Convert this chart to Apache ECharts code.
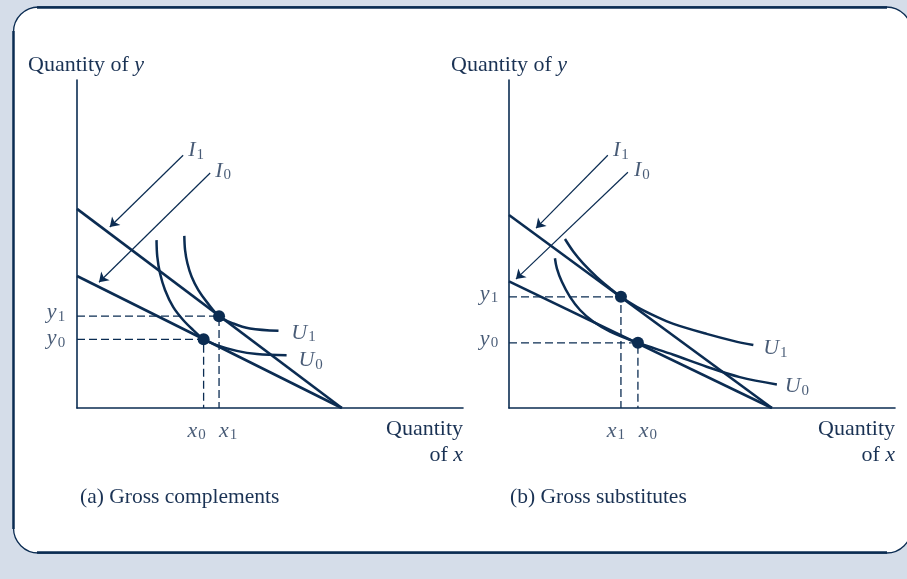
<!DOCTYPE html>
<html><head><meta charset="utf-8">
<script src="https://cdn.jsdelivr.net/npm/echarts@6/dist/echarts.min.js"></script>
<style>html,body{margin:0;padding:0;background:#d5dde9;}#c{width:907px;height:579px;}</style>
</head><body><div id="c"></div>
<script>
// ---------- data (abstract quantity units) ----------
const axisMaxX = 100, axisMaxY = 85;
// Panel (a) Gross complements
const aBudgetI1 = [[0, 51.6], [68.6, 0]];
const aBudgetI0 = [[0, 34.2], [68.6, 0]];
const aE1 = [36.8, 23.8];
const aE0 = [32.8, 17.8];
const aU1 = [[27.8,44.6],[28.0,40.9],[28.6,37.5],[29.7,34.0],[31.4,30.6],[33.6,27.5],[36.8,23.8],[40.5,21.9],[44.8,20.6],[52.2,20.0]];
const aU0 = [[20.6,43.5],[20.8,39.2],[21.5,34.9],[22.8,30.6],[24.9,26.2],[27.5,22.8],[30.1,20.2],[32.8,17.8],[36.2,16.3],[41.4,14.8],[46.6,14.0],[54.3,13.7]];
const aArrowI1 = [[27.5,65.5],[8.5,46.9]];
const aArrowI0 = [[34.5,60.9],[5.7,32.6]];
// Panel (b) Gross substitutes
const bBudgetI1 = [[0, 50.0], [68.1, 0]];
const bBudgetI0 = [[0, 32.8], [68.1, 0]];
const bE1 = [29.0, 28.8];
const bE0 = [33.4, 16.9];
const bU1 = [[14.5,43.8],[16.7,40.5],[19.2,37.5],[22.7,34.0],[26.2,31.0],[29.0,28.8],[33.1,26.2],[38.3,23.6],[42.6,21.8],[51.2,19.2],[58.1,17.4],[63.3,16.3]];
const bU0 = [[11.9,38.8],[12.4,36.2],[13.7,32.7],[15.8,28.8],[18.4,25.4],[21.8,22.4],[26.2,19.8],[33.4,16.9],[42.6,13.8],[51.2,10.7],[59.8,8.0],[69.4,6.1]];
const bArrowI1 = [[25.6,65.5],[7.0,46.6]];
const bArrowI0 = [[30.8,61.1],[1.8,33.4]];
// text
const yAxisTitle = ['Quantity of ', 'y'];
const xAxisTitle = ['Quantity', 'of ', 'x'];
const captions = ['(a) Gross complements', '(b) Gross substitutes'];
const budgetNames = ['I1', 'I0'];
const utilityNames = ['U1', 'U0'];

// ---------- styling ----------
const NAVY = '#0b2c52';
const TXT = '#1a3254';
const SERIF = '"Liberation Serif","DejaVu Serif",serif';
const rich = {
  m: {fontFamily: SERIF, fontStyle: 'italic', fontSize: 22, color: TXT},
  s: {fontFamily: SERIF, fontSize: 15, color: TXT, padding: [9, 0, 0, 1]}
};
function sub(name) { return '{m|' + name[0] + '}{s|' + name.slice(1) + '}'; }

const panels = [
  {bI1: aBudgetI1, bI0: aBudgetI0, E1: aE1, E0: aE0, U1: aU1, U0: aU0, arI1: aArrowI1, arI0: aArrowI0,
   off: {x0: [-7, 23], x1: [9, 23], y1: [-21, -4], y0: [-21, -1], I1: [13, -5], I0: [13, -2], U1: [25, 2], U0: [24, 5]}},
  {bI1: bBudgetI1, bI0: bBudgetI0, E1: bE1, E0: bE0, U1: bU1, U0: bU0, arI1: bArrowI1, arI0: bArrowI0,
   off: {x0: [10, 23], x1: [-5, 23], y1: [-20, -3], y0: [-20, -4], I1: [13, -5], I0: [14, -2], U1: [22, 3], U0: [20, 2]}}
];

const grids = [
  {left: 77, top: 80, width: 386, height: 328},
  {left: 509, top: 80, width: 386, height: 328}
];
const axisCommon = {
  type: 'value', min: 0,
  axisLine: {show: true, onZero: false, lineStyle: {color: NAVY, width: 1.6}},
  axisTick: {show: false}, axisLabel: {show: false}, splitLine: {show: false}
};
const xAxes = grids.map((g, i) => Object.assign({}, axisCommon, {gridIndex: i, max: axisMaxX}));
const yAxes = grids.map((g, i) => Object.assign({}, axisCommon, {gridIndex: i, max: axisMaxY}));

const series = [];
panels.forEach((p, i) => {
  const ax = {xAxisIndex: i, yAxisIndex: i};
  [p.E1, p.E0].forEach(E => {
    series.push(Object.assign({type: 'line', data: [[0, E[1]], [E[0], E[1]], [E[0], 0]], showSymbol: false, silent: true, z: 1,
      lineStyle: {color: NAVY, width: 1.3, type: [8, 4]}}, ax));
  });
  [p.bI1, p.bI0].forEach(b => {
    series.push(Object.assign({type: 'line', data: b, showSymbol: false, z: 3, lineStyle: {color: NAVY, width: 2.6}}, ax));
  });
  [p.U1, p.U0].forEach(u => {
    series.push(Object.assign({type: 'line', data: u, smooth: 0.35, showSymbol: false, z: 3, lineStyle: {color: NAVY, width: 2.5}}, ax));
  });
  series.push(Object.assign({type: 'lines', coordinateSystem: 'cartesian2d', z: 4,
    symbol: ['none', 'arrow'], symbolSize: [0, 9],
    lineStyle: {color: NAVY, width: 1.2, opacity: 1},
    data: [{coords: p.arI1}, {coords: p.arI0}]}, ax));
  series.push(Object.assign({type: 'scatter', symbolSize: 12, z: 5, itemStyle: {color: NAVY, opacity: 1},
    data: [p.E1, p.E0]}, ax));
  const lab = (pt, name, key) => ({value: pt, name: name,
    label: {show: true, position: 'inside', offset: p.off[key], formatter: sub(name), rich: rich}});
  const U1end = p.U1[p.U1.length - 1], U0end = p.U0[p.U0.length - 1];
  series.push(Object.assign({type: 'scatter', symbolSize: 0.1, z: 6, silent: true, itemStyle: {color: 'transparent'},
    data: [
      lab([p.E0[0], 0], 'x0', 'x0'), lab([p.E1[0], 0], 'x1', 'x1'),
      lab([0, p.E1[1]], 'y1', 'y1'), lab([0, p.E0[1]], 'y0', 'y0'),
      lab(p.arI1[0], budgetNames[0], 'I1'), lab(p.arI0[0], budgetNames[1], 'I0'),
      lab(U1end, utilityNames[0], 'U1'), lab(U0end, utilityNames[1], 'U0')
    ]}, ax));
});

const txt = (x, y, text, extra) => ({type: 'text', x: x, y: y, z: 10,
  style: Object.assign({text: text, fill: TXT, font: '22px ' + SERIF, verticalAlign: 'middle'}, extra || {})});
const titleRich = {n: {fontFamily: SERIF, fontSize: 22, color: TXT}, i: {fontFamily: SERIF, fontStyle: 'italic', fontSize: 22, color: TXT}};
const graphic = [
  {type: 'rect', z: -10, shape: {x: 13.5, y: 7, width: 898, height: 546, r: 25},
   style: {fill: '#ffffff', stroke: NAVY, lineWidth: 1.3}},
  {type: 'line', z: -9, shape: {x1: 37, y1: 7.5, x2: 887, y2: 7.5}, style: {stroke: NAVY, lineWidth: 2.6}},
  {type: 'line', z: -9, shape: {x1: 37, y1: 552.5, x2: 887, y2: 552.5}, style: {stroke: NAVY, lineWidth: 2.6}},
  {type: 'line', z: -9, shape: {x1: 13.5, y1: 31, x2: 13.5, y2: 529}, style: {stroke: NAVY, lineWidth: 2.4}}
];
const titleX = [28, 451], xTitleRight = [463, 895], capX = [80, 510];
for (let i = 0; i < 2; i++) {
  graphic.push(txt(titleX[i], 65, '{n|' + yAxisTitle[0] + '}{i|' + yAxisTitle[1] + '}', {rich: titleRich}));
  graphic.push(txt(xTitleRight[i], 429, '{n|' + xAxisTitle[0] + '}', {rich: titleRich, align: 'right'}));
  graphic.push(txt(xTitleRight[i], 455, '{n|' + xAxisTitle[1] + '}{i|' + xAxisTitle[2] + '}', {rich: titleRich, align: 'right'}));
  graphic.push(txt(capX[i], 497, captions[i], {font: '21.5px ' + SERIF}));
}

const chart = echarts.init(document.getElementById('c'), null, {renderer: 'canvas'});
chart.setOption({
  animation: false,
  backgroundColor: '#d5dde9',
  grid: grids, xAxis: xAxes, yAxis: yAxes,
  series: series, graphic: graphic
});
</script></body></html>
